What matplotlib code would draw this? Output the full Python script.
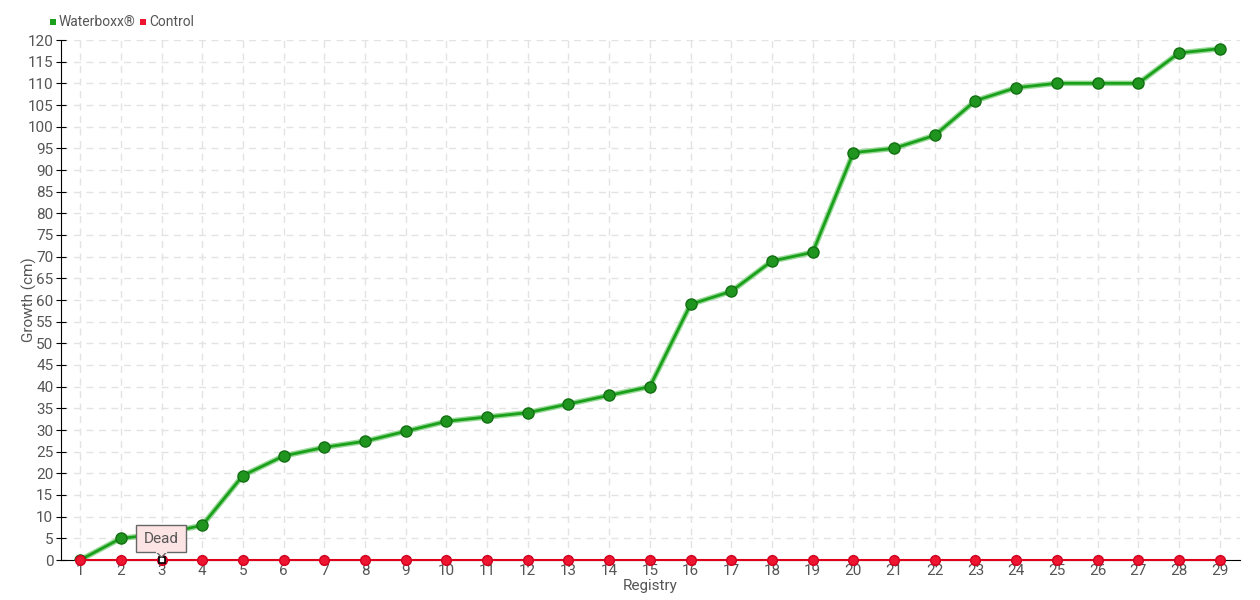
import matplotlib
matplotlib.use("Agg")
import matplotlib.pyplot as plt
from matplotlib.patches import FancyBboxPatch, Polygon, Rectangle
import numpy as np

registry = list(range(1, 30))
waterboxx = [0, 5, 6, 8, 19.5, 24, 26, 27.4, 29.7, 32, 33, 34, 36, 38, 40,
             59, 62, 69, 71, 94, 95, 98, 106, 109, 110, 110, 110, 117, 118]
control = [0] * 29
y_ticks = list(range(0, 121, 5))
dead_index = 3

plt.rcParams['font.family'] = ['Roboto', 'DejaVu Sans']
txt = '#555555'

fig = plt.figure(figsize=(12.6, 6), dpi=100)
ax = fig.add_axes([61/1260, 40/600, (1240-61)/1260, 520/600])

ax.set_xlim(0.53, 29.5)
ax.set_ylim(0, 120)

ax.grid(True, color='#e3e3e3', linestyle=(0, (5, 4)), linewidth=1)
ax.set_axisbelow(True)
ax.set_xticks(registry)
ax.set_yticks(y_ticks)
ax.tick_params(axis='both', labelsize=11, colors=txt)
ax.tick_params(axis='y', direction='inout', length=7, color='black', pad=2)
ax.tick_params(axis='x', length=0, pad=3)
for s in ['top', 'right']:
    ax.spines[s].set_visible(False)
ax.spines['left'].set_color('black')
ax.spines['bottom'].set_color('black')

# waterboxx line with light under-stroke
ax.plot(registry, waterboxx, color='#6cc96c', linewidth=4, alpha=0.7, zorder=3, solid_capstyle='round')
ax.plot(registry, waterboxx, color='#1aa01a', linewidth=2, zorder=4)
ax.plot(registry, waterboxx, linestyle='none', marker='o', markersize=8,
        markerfacecolor='#1f951f', markeredgecolor='#127012', markeredgewidth=1, zorder=5)

# control
ax.plot(registry, control, color='#e0001b', linewidth=1.5, zorder=6, clip_on=False)
ax.plot(registry, control, linestyle='none', marker='o', markersize=7,
        markerfacecolor='#ee1530', markeredgecolor='#d00020', zorder=7, clip_on=False)
ax.plot([dead_index], [0], linestyle='none', marker='s', markersize=5,
        markerfacecolor='white', markeredgecolor='black', markeredgewidth=1.2, zorder=9, clip_on=False)

# tooltip
x0, x1 = 2.38, 3.6
y0, y1 = 1.8, 8.0
box = FancyBboxPatch((x0, y0), x1 - x0, y1 - y0, boxstyle='square,pad=0',
                     facecolor='#fde4e4', edgecolor='#666666', linewidth=1, zorder=10)
ax.add_patch(box)
ax.add_patch(Polygon([[2.88, y0], [3.0, 0.6], [3.12, y0]], closed=True,
                     facecolor='#fde4e4', edgecolor='#666666', linewidth=1, zorder=10))
ax.plot([2.89, 3.11], [y0, y0], color='#fde4e4', linewidth=1.5, zorder=11)
ax.text((x0 + x1) / 2, (y0 + y1) / 2, 'Dead', ha='center', va='center', fontsize=11,
        color=txt, zorder=12)

ax.set_ylabel('Growth (cm)', fontsize=11, color=txt)
ax.yaxis.set_label_coords(-24/1179, 0.5)
ax.set_xlabel('Registry', fontsize=11, color=txt)
ax.xaxis.set_label_coords(0.5, -19/520)

# legend
fig.add_artist(Rectangle((50/1260, 1 - 25/600), 6/1260, 6/600, transform=fig.transFigure,
                         facecolor='#1aa01a', edgecolor='none'))
fig.text(59/1260, 1 - 22/600, 'Waterboxx®', color=txt, fontsize=10, va='center', ha='left')
fig.add_artist(Rectangle((140/1260, 1 - 25/600), 6/1260, 6/600, transform=fig.transFigure,
                         facecolor='#ee1530', edgecolor='none'))
fig.text(149/1260, 1 - 22/600, 'Control', color=txt, fontsize=10, va='center', ha='left')

fig.savefig('out.png', dpi=100, facecolor='white')
